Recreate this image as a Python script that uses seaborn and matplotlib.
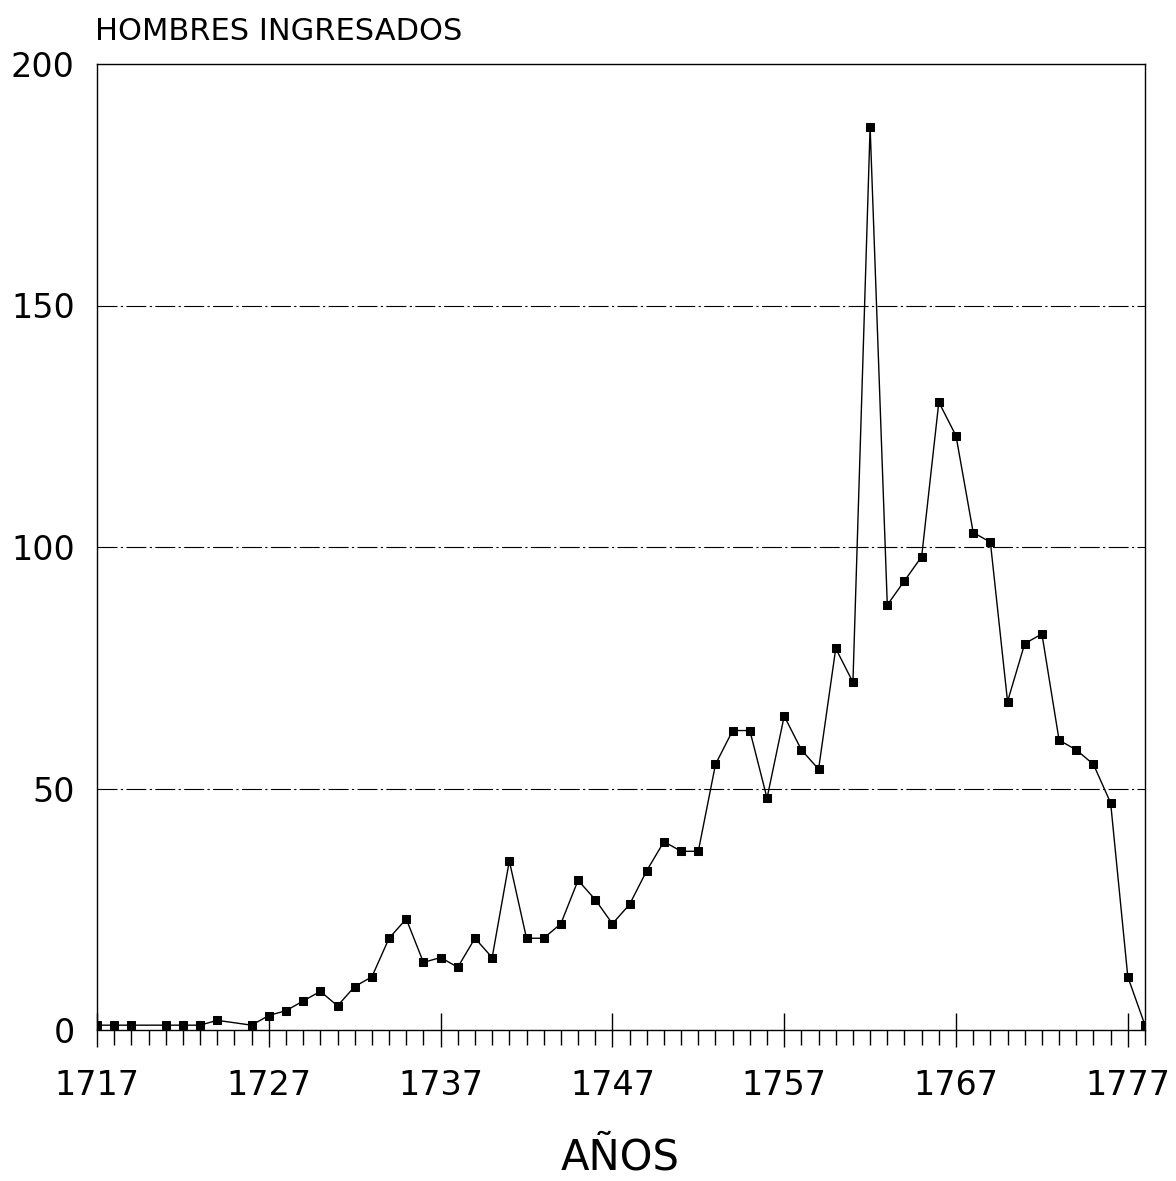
import matplotlib
matplotlib.use("Agg")
import matplotlib.pyplot as plt
import seaborn as sns
import pandas as pd

# data (1720 and 1725 have no point)
years = [1717, 1718, 1719, 1721, 1722, 1723, 1724, 1726, 1727, 1728,
         1729, 1730, 1731, 1732, 1733, 1734, 1735, 1736, 1737, 1738,
         1739, 1740, 1741, 1742, 1743, 1744, 1745, 1746, 1747, 1748,
         1749, 1750, 1751, 1752, 1753, 1754, 1755, 1756, 1757, 1758,
         1759, 1760, 1761, 1762, 1763, 1764, 1765, 1766, 1767, 1768,
         1769, 1770, 1771, 1772, 1773, 1774, 1775, 1776, 1777, 1778]
hombres = [1, 1, 1, 1, 1, 1, 2, 1, 3, 4,
           6, 8, 5, 9, 11, 19, 23, 14, 15, 13,
           19, 15, 35, 19, 19, 22, 31, 27, 22, 26,
           33, 39, 37, 37, 55, 62, 62, 48, 65, 58,
           54, 79, 72, 187, 88, 93, 98, 130, 123, 103,
           101, 68, 80, 82, 60, 58, 55, 47, 11, 1]

major_years = list(range(1717, 1778, 10))
minor_years = list(range(1717, 1779))
y_ticks = [0, 50, 100, 150, 200]

df = pd.DataFrame({"year": years, "n": hombres})

sns.set_style("white")
plt.rcParams["font.family"] = ["DejaVu Sans"]
plt.rcParams["text.color"] = "black"
plt.rcParams["xtick.color"] = "black"
plt.rcParams["ytick.color"] = "black"

fig = plt.figure(figsize=(11.76, 11.81), dpi=100)
ax = fig.add_axes([97 / 1176, 1 - 1030 / 1181, (1145 - 97) / 1176, (1030 - 64) / 1181])

# dash-dot gridlines
for v in y_ticks[1:-1]:
    ax.axhline(v, color="black", lw=0.8, linestyle=(0, (18, 3, 2, 3)), zorder=1)

sns.lineplot(data=df, x="year", y="n", ax=ax, color="black", lw=1.0,
             marker="s", markersize=6, markeredgecolor="black",
             markerfacecolor="black", zorder=3)

ax.set_xlim(1717, 1778)
ax.set_ylim(0, 200)
ax.set_xticks(major_years)
ax.set_xticks(minor_years, minor=True)
ax.set_xticklabels([str(y) for y in major_years], fontsize=24)
ax.set_yticks(y_ticks)
ax.set_yticklabels([str(v) for v in y_ticks], fontsize=24)
ax.tick_params(axis="x", which="both", bottom=True)
ax.tick_params(axis="x", which="major", direction="inout", length=24, width=1.0,
               pad=16, color="black", labelcolor="black")
ax.tick_params(axis="x", which="minor", direction="out", length=11, width=1.0,
               color="black")
ax.tick_params(axis="y", left=False, length=0, pad=16, labelcolor="black")

for s in ax.spines.values():
    s.set_color("black")
    s.set_linewidth(1.0)

ax.set_xlabel("")
ax.set_ylabel("")

fig.text(95 / 1176, 1 - 40 / 1181, "HOMBRES INGRESADOS", fontsize=22,
         ha="left", va="baseline", color="black")
fig.text(620 / 1176, 1 - 1158 / 1181, "AÑOS", fontsize=30,
         ha="center", va="center", color="black")

fig.savefig("out.png", dpi=100)
